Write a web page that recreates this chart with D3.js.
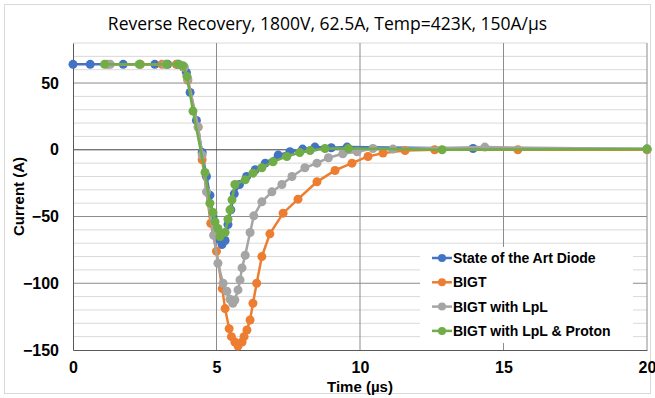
<!DOCTYPE html>
<html>
<head>
<meta charset="utf-8">
<script src="https://cdn.jsdelivr.net/npm/d3@7"></script>
<style>
  body { margin: 0; background: #fff; }
  svg { display: block; font-family: "Liberation Sans", Arial, sans-serif; }
</style>
</head>
<body>
<div id="chart"></div>
<script>
const seriesNames = ["State of the Art Diode", "BIGT", "BIGT with LpL", "BIGT with LpL & Proton"];
const seriesColors = ["#4472C4", "#ED7D31", "#A5A5A5", "#70AD47"];

// time (us) and current (A) per series
const diodeT = [0, 0.6, 1.75, 2.85, 3.3, 3.65, 3.85, 3.95, 4.08, 4.3, 4.5, 4.65, 4.77, 4.88, 5.0, 5.1, 5.19, 5.3, 5.4, 5.5, 5.62, 5.8, 6.05, 6.35, 6.7, 7.15, 7.56, 8.0, 8.43, 9.0, 9.55, 13.94, 20];
const diodeI = [64, 64, 64, 64, 64, 64, 62, 58, 43, 22, -2, -20, -34, -50, -60, -67, -71, -68, -56, -45, -33, -26, -20, -15, -10, -4, -1.5, 0.5, 2, 1.5, 2, 1, 0.5];

const bigtT = [1.2, 2.35, 3.1, 3.6, 3.85, 4.0, 4.36, 4.5, 4.8, 5.0, 5.2, 5.3, 5.44, 5.52, 5.64, 5.75, 5.89, 5.96, 6.06, 6.17, 6.27, 6.4, 6.58, 6.86, 7.32, 7.84, 8.5, 9.13, 9.72, 10.28, 10.8, 11.57, 12.6, 15.5, 20];
const bigtI = [64, 64, 64, 64, 62, 52, 17, -7.5, -55, -76, -104, -119, -134, -140, -144, -147, -144, -140, -135, -127.5, -115, -100, -80, -63, -47.5, -37, -24, -15.5, -10, -5, -2.5, -0.5, 0, 0, 0];

const lplT = [1.3, 2.3, 3.2, 3.7, 3.88, 4.0, 4.36, 4.5, 4.65, 4.9, 5.05, 5.23, 5.36, 5.47, 5.57, 5.64, 5.75, 5.82, 5.89, 6.0, 6.17, 6.3, 6.58, 6.93, 7.28, 7.63, 8.08, 8.5, 8.9, 9.4, 9.9, 10.45, 11.15, 14.35, 20];
const lplI = [64, 64, 64, 64, 62, 53, 17, -4, -31.5, -64, -85, -100, -106, -112, -115, -112.5, -105, -97.5, -88.5, -79, -62, -49.5, -39, -31.5, -26, -20, -13.5, -10, -6, -3, -1.5, 1, 0.5, 2, 0.5];

const protonT = [1.1, 2.33, 3.27, 3.66, 3.83, 3.97, 4.18, 4.6, 4.77, 4.88, 4.95, 5.05, 5.12, 5.3, 5.4, 5.47, 5.54, 5.64, 6.0, 6.27, 6.58, 6.97, 7.45, 7.9, 8.26, 8.78, 9.6, 12.86, 20];
const protonI = [64, 64, 64, 64, 63, 55, 29, -17, -40, -47, -54, -59, -65, -62, -52, -45, -37.5, -26, -22.5, -17.5, -13.5, -9, -5, -2, -0.5, 1, 1, 0, 0.5];

const xTicks = [0, 5, 10, 15, 20];
const yTicks = [50, 0, -50, -100, -150];

const seriesT = [diodeT, bigtT, lplT, protonT];
const seriesI = [diodeI, bigtI, lplI, protonI];

const W = 655, H = 398;
const margin = { top: 43, right: 8, bottom: 48, left: 73 };

const svg = d3.select("#chart").append("svg")
  .attr("width", W)
  .attr("height", H);

svg.append("rect")
  .attr("x", 4.5).attr("y", 4.5)
  .attr("width", W - 9).attr("height", H - 9)
  .attr("fill", "#fff")
  .attr("stroke", "#d9d9d9");

const x = d3.scaleLinear().domain([0, 20]).range([margin.left, W - margin.right]);
const y = d3.scaleLinear().domain([-150, 80]).range([H - margin.bottom, margin.top]);

// minor horizontal grid
svg.append("g")
  .selectAll("line")
  .data(d3.range(-140, 81, 10).filter(v => v % 50 !== 0))
  .join("line")
  .attr("x1", x(0)).attr("x2", x(20))
  .attr("y1", d => y(d)).attr("y2", d => y(d))
  .attr("stroke", "#d9d9d9")
  .attr("stroke-width", 1);

// major horizontal grid
svg.append("g")
  .selectAll("line")
  .data([50, -50, -100])
  .join("line")
  .attr("x1", x(0)).attr("x2", x(20))
  .attr("y1", d => y(d)).attr("y2", d => y(d))
  .attr("stroke", "#8c8c8c")
  .attr("stroke-width", 1);

// vertical grid
svg.append("g")
  .selectAll("line")
  .data(xTicks.slice(1))
  .join("line")
  .attr("x1", d => x(d)).attr("x2", d => x(d))
  .attr("y1", y(80)).attr("y2", y(-150))
  .attr("stroke", "#8c8c8c")
  .attr("stroke-width", 1);

// zero line and axes
svg.append("line")
  .attr("x1", x(0)).attr("x2", x(20))
  .attr("y1", y(0)).attr("y2", y(0))
  .attr("stroke", "#404040");

const xAxis = svg.append("g")
  .attr("transform", `translate(0,${y(-150)})`)
  .call(d3.axisBottom(x).tickValues(xTicks).tickSize(0).tickPadding(12));
xAxis.select(".domain").attr("stroke", "#595959");
xAxis.selectAll("text")
  .attr("font-size", 16).attr("font-weight", "bold").attr("fill", "#000")
  .attr("font-family", "Liberation Sans, Arial, sans-serif");

const yAxis = svg.append("g")
  .attr("transform", `translate(${x(0)},0)`)
  .call(d3.axisLeft(y).tickValues(yTicks).tickSize(0).tickPadding(14));
yAxis.select(".domain").attr("stroke", "#595959");
yAxis.selectAll("text")
  .attr("font-size", 16).attr("font-weight", "bold").attr("fill", "#000")
  .attr("font-family", "Liberation Sans, Arial, sans-serif");

// series
const line = d3.line().x(d => x(d[0])).y(d => y(d[1]));
seriesNames.forEach((name, i) => {
  const pts = seriesT[i].map((t, k) => [t, seriesI[i][k]]);
  const g = svg.append("g");
  g.append("path")
    .datum(pts)
    .attr("d", line)
    .attr("fill", "none")
    .attr("stroke", seriesColors[i])
    .attr("stroke-width", 2.5);
  g.selectAll("circle")
    .data(pts)
    .join("circle")
    .attr("cx", d => x(d[0]))
    .attr("cy", d => y(d[1]))
    .attr("r", 4.5)
    .attr("fill", seriesColors[i]);
});

// title
svg.append("text")
  .attr("x", W / 2).attr("y", 30)
  .attr("text-anchor", "middle")
  .attr("font-family", "Open Sans, sans-serif")
  .attr("font-size", 17.5)
  .attr("fill", "#000")
  .text("Reverse Recovery, 1800V, 62.5A, Temp=423K, 150A/µs");

// axis titles
svg.append("text")
  .attr("x", (x(0) + x(20)) / 2).attr("y", 392)
  .attr("text-anchor", "middle")
  .attr("font-size", 15).attr("font-weight", "bold")
  .text("Time (µs)");

svg.append("text")
  .attr("transform", `translate(24,${(y(80) + y(-150)) / 2}) rotate(-90)`)
  .attr("text-anchor", "middle")
  .attr("font-size", 15).attr("font-weight", "bold")
  .text("Current (A)");

// legend
const lg = svg.append("g").attr("transform", "translate(420,247)");
lg.append("rect")
  .attr("width", 213).attr("height", 96)
  .attr("fill", "#fff");
seriesNames.forEach((name, i) => {
  const ry = 11 + i * 24.3;
  lg.append("line")
    .attr("x1", 12).attr("x2", 32)
    .attr("y1", ry).attr("y2", ry)
    .attr("stroke", seriesColors[i]).attr("stroke-width", 2.5);
  lg.append("circle")
    .attr("cx", 22).attr("cy", ry).attr("r", 4)
    .attr("fill", seriesColors[i]);
  lg.append("text")
    .attr("x", 33).attr("y", ry)
    .attr("dominant-baseline", "central")
    .attr("font-size", 14).attr("font-weight", "bold")
    .text(name);
});
</script>
</body>
</html>
